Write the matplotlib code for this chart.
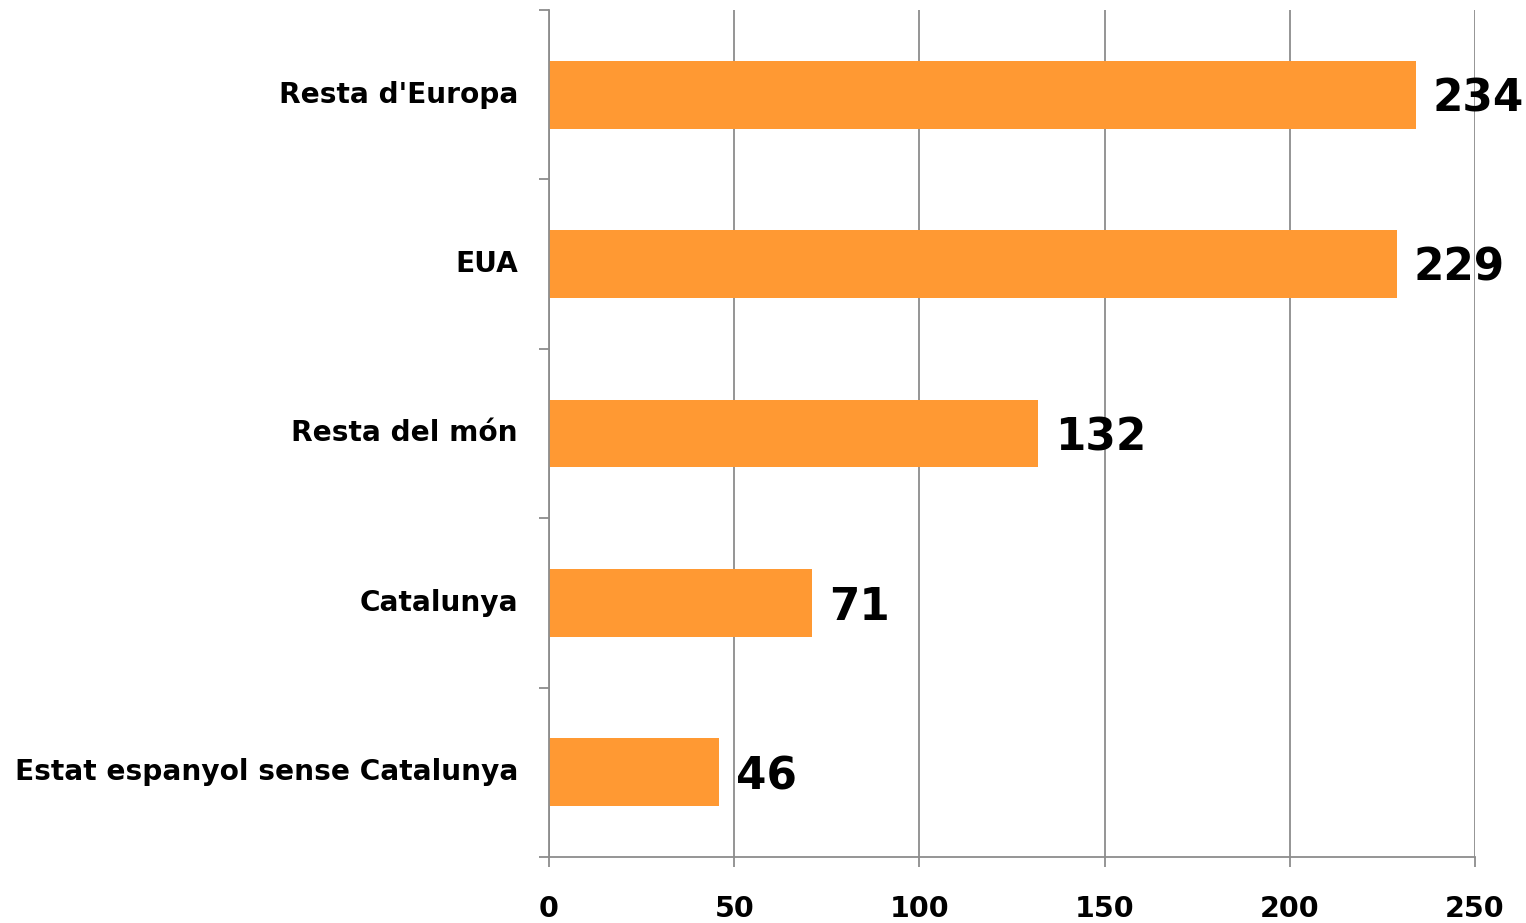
import matplotlib
matplotlib.use('Agg')
import matplotlib.pyplot as plt

categories = ['Estat espanyol sense Catalunya', 'Catalunya', 'Resta del món', 'EUA', "Resta d'Europa"]
values = [46, 71, 132, 229, 234]
x_ticks = [0, 50, 100, 150, 200, 250]

bar_color = '#FF9933'
grid_color = '#8C8C8C'

fig = plt.figure(figsize=(15.26, 9.23), dpi=100)
ax = fig.add_axes([0.3598, 0.0715, 0.6068, 0.9177])

pos = list(range(len(categories)))
ax.barh(pos, values, height=0.4, color=bar_color, zorder=2)

for p, v in zip(pos, values):
    ax.text(v + 4.5, p - 0.025, str(v), va='center', ha='left',
            fontsize=31.5, fontweight='bold', color='black', zorder=1)

for p, c in zip(pos, categories):
    ax.text(-8.4, p, c, va='center', ha='right', fontsize=20.2,
            fontweight='bold', color='black')

ax.set_xlim(0, 250)
ax.set_ylim(-0.5, len(categories) - 0.5)
ax.set_xticks(x_ticks)
ax.set_xticklabels([str(t) for t in x_ticks], fontsize=20.5, fontweight='bold')
ax.set_yticks([p - 0.5 for p in pos] + [len(categories) - 0.5])
ax.set_yticklabels([])

ax.grid(axis='x', color=grid_color, linewidth=1.3, zorder=0)
ax.set_axisbelow(True)
for s in ['top', 'right']:
    ax.spines[s].set_visible(False)
for s in ['left', 'bottom']:
    ax.spines[s].set_color(grid_color)
    ax.spines[s].set_linewidth(1.3)
ax.tick_params(axis='x', direction='out', length=7, width=1.3, color=grid_color, pad=20)
ax.tick_params(axis='y', direction='out', length=7, width=1.3, color=grid_color)

fig.savefig('out.png', dpi=100)
